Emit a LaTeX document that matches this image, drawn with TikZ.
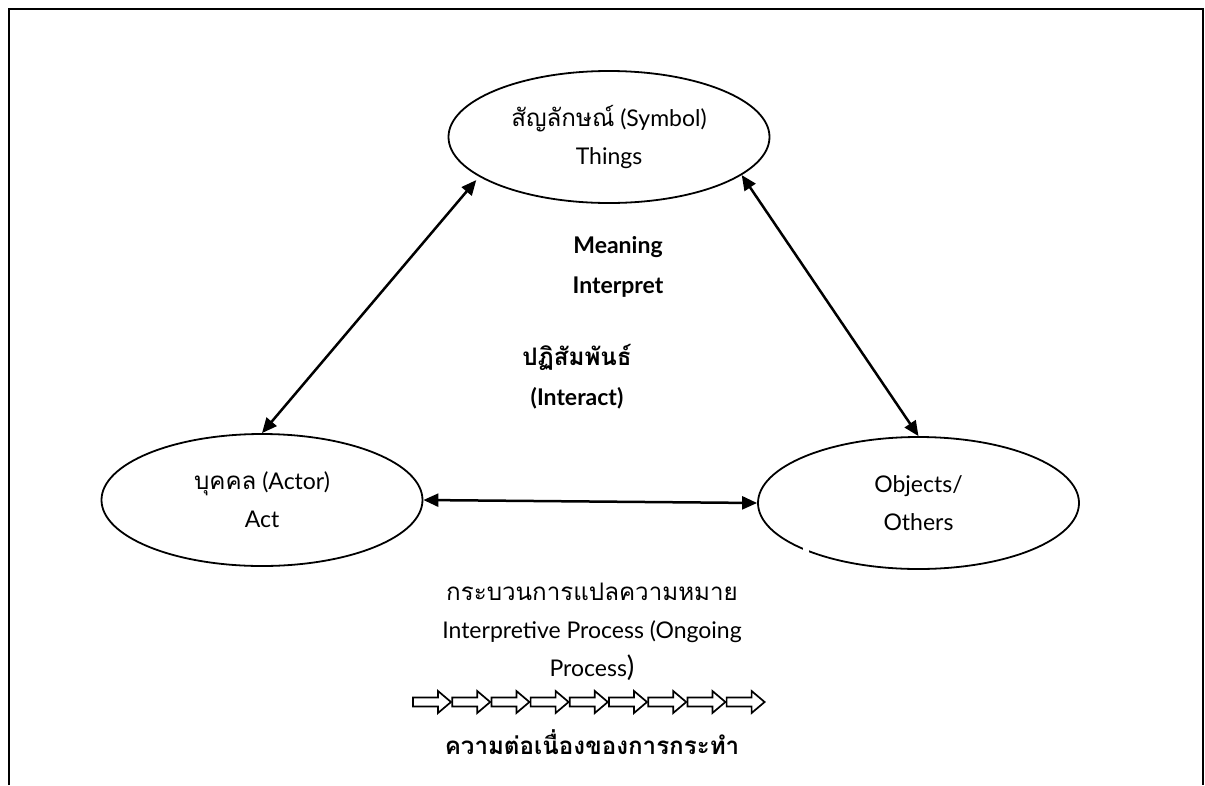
\documentclass[tikz,border=0pt]{standalone}
\usepackage{fontspec}
\setmainfont{Lato}
\newfontfamily\thai[Script=Thai,Scale=1.05]{Loma}
\usetikzlibrary{shapes.geometric,arrows.meta,calc}
\tikzset{
  oval/.style={ellipse, draw, line width=1.8pt, minimum width=321pt, minimum height=132pt, inner sep=0pt, align=center, font=\fontsize{23}{38}\selectfont},
  lbl/.style={inner sep=0pt, align=center, font=\fontsize{23}{38}\selectfont},
  blbl/.style={inner sep=0pt, align=center, font=\fontsize{23}{40}\selectfont\bfseries},
  link/.style={line width=2.5pt, {Triangle[length=15pt,width=13pt]}-{Triangle[length=15pt,width=13pt]}},
  blockarrow/.style={line width=1.7pt, fill=white, line join=miter},
  frame/.style={line width=2pt}
}
\begin{document}
\begin{tikzpicture}[x=1pt,y=-1pt]
\useasboundingbox (0,0) rectangle (1205,785);
\draw[frame] (9,785) -- (9,9) -- (1202.5,9) -- (1202.5,785);

\node[oval] (sym) at (609,137) {{\thai สัญลักษณ์} (Symbol)\\Things};
\node[oval] (act) at (262,500) {{\thai บุคคล} (Actor)\\Act};
\node[oval] (obj) at (918.5,503) {Objects/\\Others};
% small gap in the outline of the right oval
\fill[white] (803,546) rectangle (809,554);

\draw[link] ([yshift=-5pt]sym.196) -- (act.north);
\draw[link] (sym.-16) -- (obj.north);
\draw[link] (act.east) -- (obj.west);

\node[blbl] (mean) at (618,267) {Meaning\\Interpret};
\node[blbl] (inter) at (577,377) {{\thai ปฏิสัมพันธ์}\\(Interact)};

\node[lbl] (proc) at (592,632) {{\thai กระบวนการแปลความหมาย}\\Interpretive Process (Ongoing\\Process{\fontsize{28}{38}\selectfont )}};

\foreach \i in {0,...,8}{
  \pgfmathsetmacro{\xa}{413+39.2*\i}
  \draw[blockarrow] (\xa,697.5) -- (\xa+25,697.5) -- (\xa+25,691) -- (\xa+38,702) -- (\xa+25,713) -- (\xa+25,706.5) -- (\xa,706.5) -- cycle;
}

\node[blbl] (cont) at (592,742) {\thai ความต่อเนื่องของการกระทำ};
\end{tikzpicture}
\end{document}
